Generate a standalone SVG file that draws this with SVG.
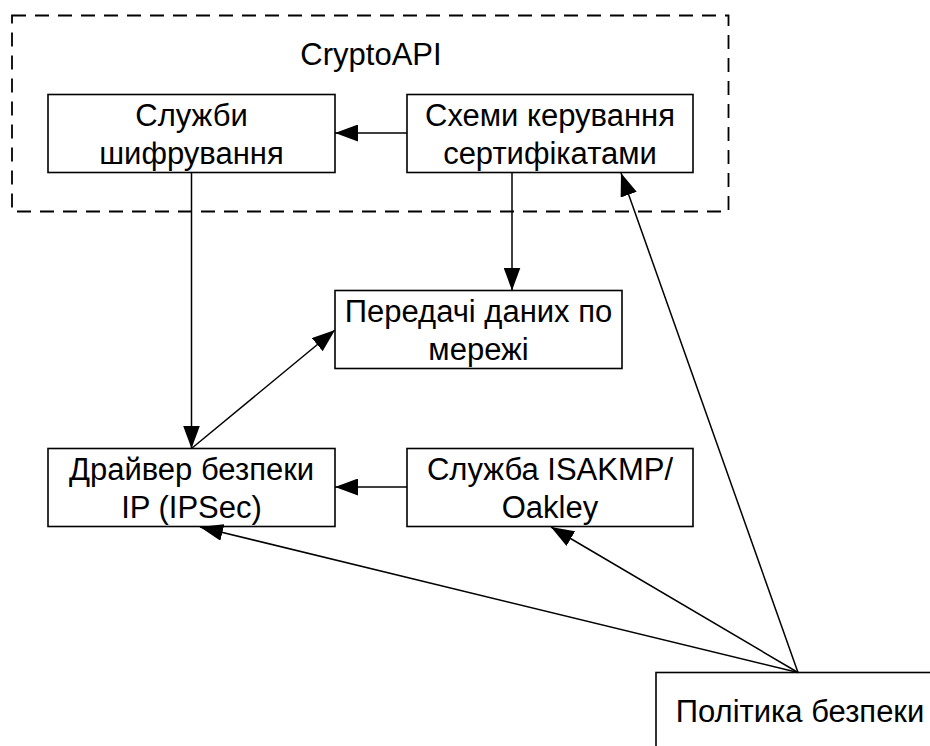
<svg xmlns="http://www.w3.org/2000/svg" width="930" height="746" viewBox="0 0 930 746">
<style>
.box{fill:#fff;stroke:#000;stroke-width:1.6}
.t{font-family:"Liberation Sans",Arial,sans-serif;font-size:31px;fill:#000;text-anchor:middle}
.c{fill:none;stroke:#000;stroke-width:1.5}
</style>
<defs>
<marker id="ah" markerUnits="userSpaceOnUse" viewBox="0 0 23 17" markerWidth="23" markerHeight="17" refX="23" refY="8.5" orient="auto">
<path d="M0,0 L23,8.5 L0,17 z" fill="#000"/>
</marker>
</defs>
<rect width="930" height="746" fill="#fff"/>
<g id="cryptoapi">
<rect x="12" y="15.5" width="716.5" height="196" fill="none" stroke="#000" stroke-width="1.8" stroke-dasharray="14 9"/>
<text class="t" x="371" y="65">CryptoAPI</text>
</g>
<g id="sluzhby">
<rect class="box" x="48" y="94.5" width="287" height="78"/>
<text class="t" x="191.5" y="125.5">Служби</text>
<text class="t" x="191.5" y="164">шифрування</text>
</g>
<g id="skhemy">
<rect class="box" x="407" y="94.5" width="286" height="78"/>
<text class="t" x="550" y="125.5">Схеми керування</text>
<text class="t" x="550" y="164">сертифікатами</text>
</g>
<g id="peredachi">
<rect class="box" x="335" y="290.5" width="287" height="78"/>
<text class="t" x="478.5" y="321.5">Передачі даних по</text>
<text class="t" x="478.5" y="360">мережі</text>
</g>
<g id="drajver">
<rect class="box" x="48" y="448.5" width="287" height="78"/>
<text class="t" x="191.5" y="479.5">Драйвер безпеки</text>
<text class="t" x="191.5" y="518">IP (IPSec)</text>
</g>
<g id="isakmp">
<rect class="box" x="407" y="448.5" width="286" height="78"/>
<text class="t" x="550" y="479.5">Служба ISAKMP/</text>
<text class="t" x="550" y="518">Oakley</text>
</g>
<g id="polityka">
<rect class="box" x="656" y="672.5" width="290" height="80"/>
<text class="t" x="800" y="722">Політика безпеки</text>
</g>
<g id="connectors">
<line class="c" x1="407" y1="133" x2="335" y2="133" marker-end="url(#ah)"/>
<line class="c" x1="191.5" y1="172.5" x2="191.5" y2="448.5" marker-end="url(#ah)"/>
<line class="c" x1="512" y1="172.5" x2="512" y2="290.5" marker-end="url(#ah)"/>
<line class="c" x1="191.5" y1="448.5" x2="335" y2="330" marker-end="url(#ah)"/>
<line class="c" x1="407" y1="487" x2="335" y2="487" marker-end="url(#ah)"/>
<line class="c" x1="798" y1="672.5" x2="200" y2="527" marker-end="url(#ah)"/>
<line class="c" x1="798" y1="672.5" x2="551" y2="527" marker-end="url(#ah)"/>
<line class="c" x1="798" y1="672.5" x2="621" y2="173" marker-end="url(#ah)"/>
</g>
</svg>
